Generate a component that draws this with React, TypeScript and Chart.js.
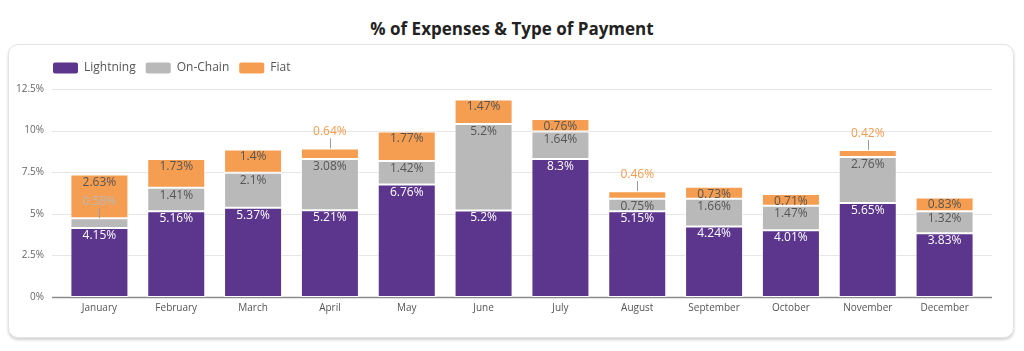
import React, { useEffect, useRef } from 'react';
import { Chart, registerables } from 'chart.js';

Chart.register(...registerables);

const months = ['January', 'February', 'March', 'April', 'May', 'June', 'July', 'August', 'September', 'October', 'November', 'December'];
const lightning = [4.15, 5.16, 5.37, 5.21, 6.76, 5.2, 8.3, 5.15, 4.24, 4.01, 5.65, 3.83];
const onChain = [0.58, 1.41, 2.1, 3.08, 1.42, 5.2, 1.64, 0.75, 1.66, 1.47, 2.76, 1.32];
const fiat = [2.63, 1.73, 1.4, 0.64, 1.77, 1.47, 0.76, 0.46, 0.73, 0.71, 0.42, 0.83];
const seriesNames = ['Lightning', 'On-Chain', 'Fiat'];
const yMax = 12.5;
const yStep = 2.5;

const seriesColors = ['#5c358c', '#b9b9b9', '#f59d50'];
const insideLabelColors = ['#ffffff', '#555555', '#555555'];
const FONT = '"Open Sans", "Noto Sans", sans-serif';

const gridPlugin = {
  id: 'extGrid',
  beforeDatasetsDraw(chart: any) {
    const { ctx, chartArea, scales } = chart;
    const y = scales.y;
    ctx.save();
    y.ticks.forEach((t: any) => {
      const py = Math.round(y.getPixelForValue(t.value)) + 0.5;
      ctx.beginPath();
      if (t.value === 0) {
        ctx.strokeStyle = '#8c8c8c';
        ctx.lineWidth = 1.6;
      } else {
        ctx.strokeStyle = '#e6e6e6';
        ctx.lineWidth = 1;
      }
      ctx.moveTo(chartArea.left - 9, py);
      ctx.lineTo(chartArea.right + 9, py);
      ctx.stroke();
    });
    ctx.restore();
  },
};

const labelPlugin = {
  id: 'segLabels',
  afterDatasetsDraw(chart: any) {
    const ctx = chart.ctx;
    ctx.save();
    ctx.font = '12px ' + FONT;
    ctx.textAlign = 'center';
    ctx.textBaseline = 'alphabetic';
    chart.data.datasets.forEach((ds: any, di: number) => {
      const meta = chart.getDatasetMeta(di);
      meta.data.forEach((bar: any, i: number) => {
        const v = ds.data[i];
        const p = bar.getProps(['x', 'y', 'base'], true);
        const top = Math.min(p.y, p.base);
        const h = Math.abs(p.base - p.y);
        const text = v + '%';
        if (h >= 11) {
          ctx.fillStyle = insideLabelColors[di];
          ctx.fillText(text, p.x, top + 11);
        } else {
          ctx.strokeStyle = '#9a9a9a';
          ctx.lineWidth = 1;
          ctx.beginPath();
          ctx.moveTo(Math.round(p.x) + 0.5, top);
          ctx.lineTo(Math.round(p.x) + 0.5, top - 10);
          ctx.stroke();
          ctx.fillStyle = seriesColors[di];
          ctx.fillText(text, p.x, top - 13);
        }
      });
    });
    ctx.restore();
  },
};

const LEGEND_SHIFT = 27;

const legendTweak = {
  id: 'legendTweak',
  beforeInit(chart: any) {
    if (!chart.legend) return;
    const origFit = chart.legend.fit;
    chart.legend.fit = function () {
      origFit.call(this);
      this.height += 5;
    };
    const origDraw = chart.legend.draw;
    chart.legend.draw = function () {
      const ctx = this.ctx;
      ctx.save();
      ctx.translate(LEGEND_SHIFT, 0);
      origDraw.call(this);
      ctx.restore();
    };
  },
};

export default function App() {
  const ref = useRef<HTMLCanvasElement | null>(null);

  useEffect(() => {
    if (!ref.current) return;
    const values = [lightning, onChain, fiat];
    const chart = new Chart(ref.current, {
      type: 'bar',
      data: {
        labels: months,
        datasets: values.map((d, i) => ({
          label: seriesNames[i],
          data: d,
          backgroundColor: seriesColors[i],
          borderColor: 'rgba(255,255,255,0.85)',
          borderWidth: 1,
          borderSkipped: false,
          categoryPercentage: 1,
          barPercentage: 0.755,
        })),
      },
      options: {
        responsive: false,
        animation: false,
        layout: { padding: { top: 52, left: 16, right: 41, bottom: 32 } },
        plugins: {
          title: { display: false },
          tooltip: { enabled: false },
          legend: {
            display: true,
            position: 'top',
            align: 'start',
            labels: {
              boxWidth: 25,
              boxHeight: 11,
              padding: 10,
              color: '#555555',
              font: { size: 12, family: FONT },
              useBorderRadius: true,
              borderRadius: 2,
              generateLabels(c: any) {
                const items = Chart.defaults.plugins.legend.labels.generateLabels(c);
                items.forEach((it: any) => {
                  it.lineWidth = 0;
                  it.strokeStyle = 'rgba(0,0,0,0)';
                });
                return items;
              },
            },
          },
        },
        scales: {
          x: {
            stacked: true,
            grid: { display: false, drawTicks: false },
            border: { display: false },
            ticks: {
              color: '#555555',
              font: { size: 10, family: FONT },
              padding: 5,
              maxRotation: 0,
              autoSkip: false,
            },
          },
          y: {
            stacked: true,
            min: 0,
            max: yMax,
            grid: { display: false, drawTicks: false },
            border: { display: false },
            afterFit(scale: any) {
              scale.width = 45;
            },
            ticks: {
              stepSize: yStep,
              color: '#666666',
              font: { size: 10, family: FONT },
              padding: 17,
              callback: (v: any) => v + '%',
            },
          },
        },
      },
      plugins: [legendTweak, gridPlugin, labelPlugin],
    });
    return () => chart.destroy();
  }, []);

  return (
    <div style={{ position: 'absolute', left: 0, top: 0, width: 1024, height: 351, background: '#ffffff', overflow: 'hidden' }}>
      <div
        style={{
          position: 'absolute',
          left: 0,
          top: 17,
          width: 1024,
          textAlign: 'center',
          fontFamily: FONT,
          fontWeight: 700,
          fontSize: 17,
          lineHeight: '24px',
          color: '#222222',
        }}
      >
        % of Expenses &amp; Type of Payment
      </div>
      <div
        style={{
          position: 'absolute',
          left: 8,
          top: 44,
          width: 1004,
          height: 292,
          border: '1px solid #e4e4e4',
          borderRadius: 10,
          boxShadow: '0 2px 3px rgba(0,0,0,0.18)',
          background: '#ffffff',
        }}
      />
      <canvas ref={ref} width={1024} height={351} style={{ position: 'absolute', left: 0, top: 0, width: 1024, height: 351 }} />
    </div>
  );
}
